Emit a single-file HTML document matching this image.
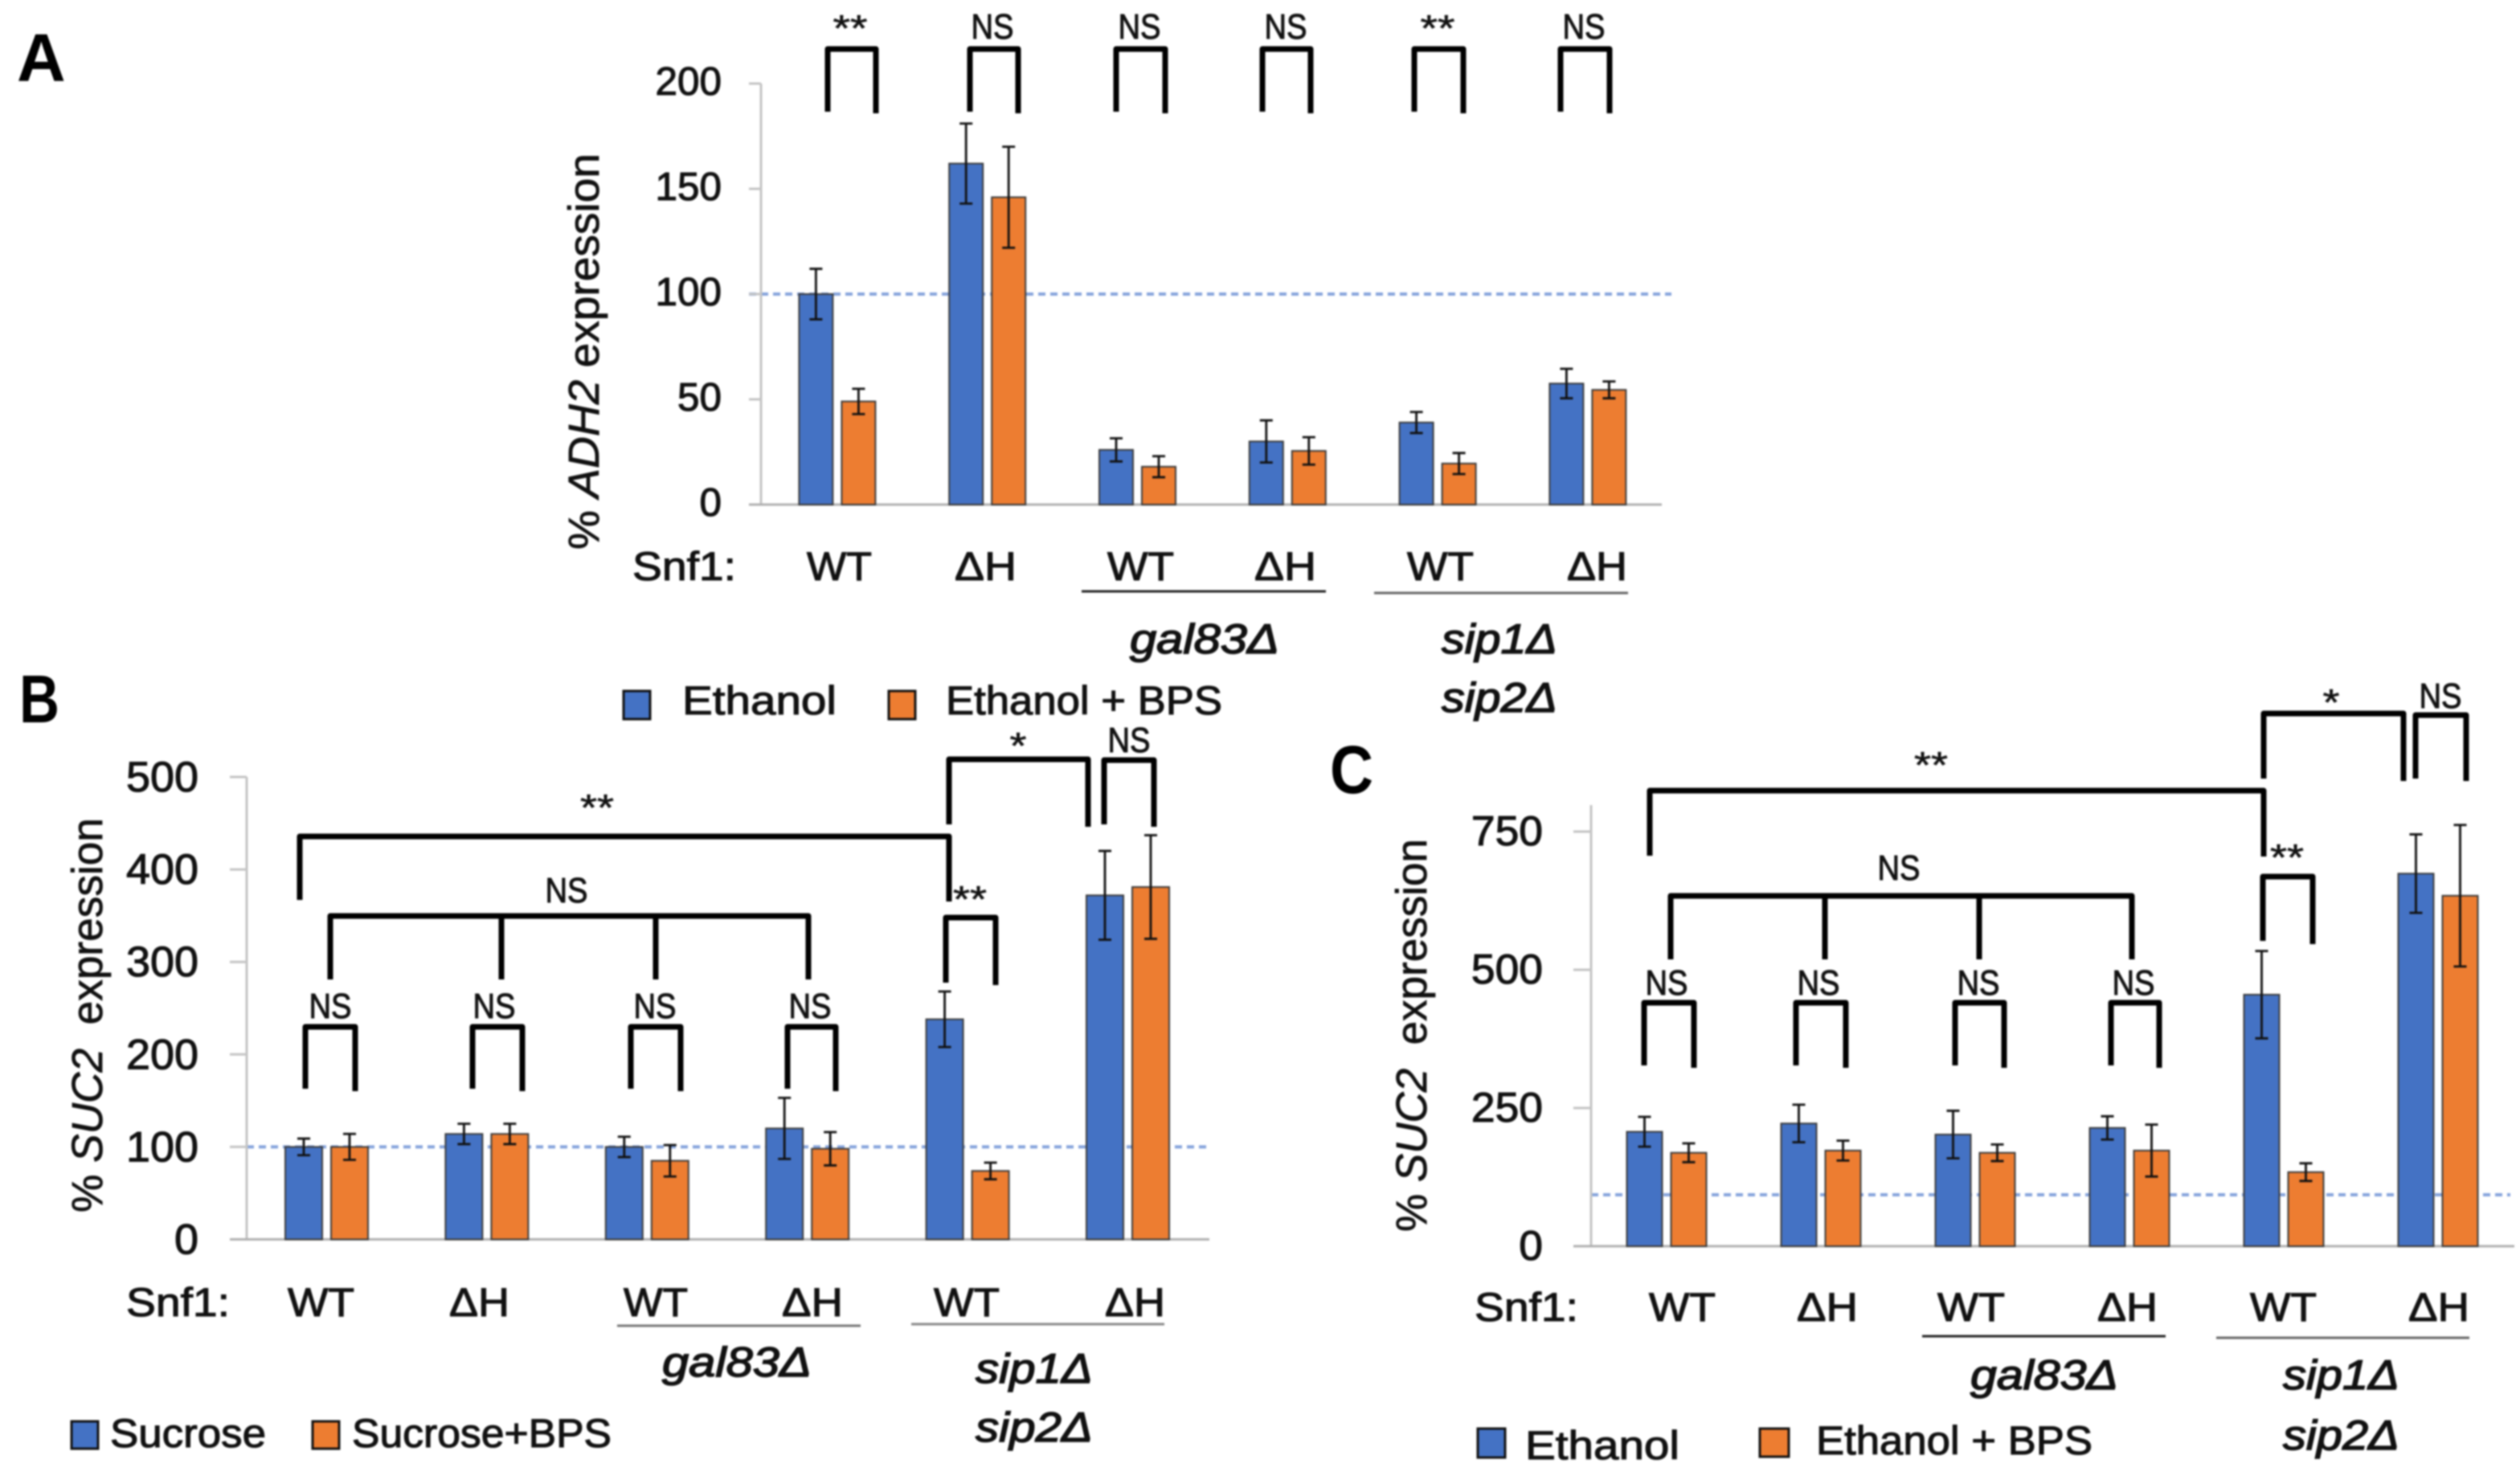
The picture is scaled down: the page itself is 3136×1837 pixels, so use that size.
<!DOCTYPE html>
<html lang="en">
<head>
<meta charset="utf-8">
<title>ADH2 and SUC2 expression</title>
<style>
html,body{margin:0;padding:0;background:#fff;}
svg{display:block;filter:blur(1.1px);}
text{font-family:"Liberation Sans",sans-serif;fill:#111;}
.lab{font-size:50px;stroke:#111;stroke-width:1.1px;}
.gene{font-size:52px;font-style:italic;stroke:#111;stroke-width:1.5px;}
.sig{font-size:44px;text-anchor:middle;stroke:#111;stroke-width:1px;}
.star{font-size:46px;text-anchor:middle;stroke:#111;stroke-width:.6px;}
.panel{font-size:84px;font-weight:bold;fill:#000;}
.title{font-size:54px;stroke:#111;stroke-width:.8px;}
.br{fill:none;stroke:#000;stroke-width:7px;stroke-linejoin:round;}
.ul{stroke-width:3px;fill:none;}
.sw{stroke:#111;stroke-width:3px;}
</style>
</head>
<body>
<svg id="fig" xmlns="http://www.w3.org/2000/svg" width="3136" height="1837" viewBox="0 0 3136 1837">
  <rect width="3136" height="1837" fill="#fff"/>
  <g id="plotA"></g>
  <g id="plotB"></g>
  <g id="plotC"></g>

  <!-- Panel letters -->
  <text class="panel" x="21" y="101">A</text>
  <text class="panel" x="24" y="899" textLength="50" lengthAdjust="spacingAndGlyphs">B</text>
  <text class="panel" x="1655" y="987" textLength="54" lengthAdjust="spacingAndGlyphs">C</text>

  <!-- Axis titles -->
  <text class="title" transform="translate(745 684) rotate(-90)" textLength="493" lengthAdjust="spacingAndGlyphs">% <tspan font-style="italic">ADH2</tspan> expression</text>
  <text class="title" transform="translate(127 1509) rotate(-90)" textLength="491" lengthAdjust="spacingAndGlyphs">% <tspan font-style="italic">SUC2</tspan>&#160; expression</text>
  <text class="title" transform="translate(1775 1533) rotate(-90)" textLength="489" lengthAdjust="spacingAndGlyphs">% <tspan font-style="italic">SUC2</tspan>&#160; expression</text>

  <!-- Panel A annotations -->
  <g>
    <path class="br" d="M1030 139V61H1090V141"/>
    <path class="br" d="M1207 139V61H1267V141"/>
    <path class="br" d="M1389 139V61H1450V141"/>
    <path class="br" d="M1571 139V61H1631V141"/>
    <path class="br" d="M1760 139V61H1821V141"/>
    <path class="br" d="M1942 139V61H2003V141"/>
    <text class="star" x="1058" y="51" textLength="43" lengthAdjust="spacingAndGlyphs">**</text>
    <text class="sig" x="1235" y="48" textLength="53" lengthAdjust="spacingAndGlyphs">NS</text>
    <text class="sig" x="1418" y="48" textLength="53" lengthAdjust="spacingAndGlyphs">NS</text>
    <text class="sig" x="1600" y="48" textLength="53" lengthAdjust="spacingAndGlyphs">NS</text>
    <text class="star" x="1789" y="51" textLength="43" lengthAdjust="spacingAndGlyphs">**</text>
    <text class="sig" x="1971" y="48" textLength="53" lengthAdjust="spacingAndGlyphs">NS</text>
  </g>
  <g>
    <text class="lab" x="787" y="722" textLength="129" lengthAdjust="spacingAndGlyphs">Snf1:</text>
    <text class="lab" x="1004" y="722" textLength="81" lengthAdjust="spacingAndGlyphs">WT</text>
    <text class="lab" x="1188" y="722" textLength="77" lengthAdjust="spacingAndGlyphs">ΔH</text>
    <text class="lab" x="1378" y="722" textLength="83" lengthAdjust="spacingAndGlyphs">WT</text>
    <text class="lab" x="1561" y="722" textLength="77" lengthAdjust="spacingAndGlyphs">ΔH</text>
    <text class="lab" x="1751" y="722" textLength="83" lengthAdjust="spacingAndGlyphs">WT</text>
    <text class="lab" x="1950" y="722" textLength="75" lengthAdjust="spacingAndGlyphs">ΔH</text>
    <line class="ul" x1="1346" x2="1650" y1="736" y2="736" stroke="#222"/>
    <line class="ul" x1="1710" x2="2026" y1="738" y2="738" stroke="#666"/>
    <text class="gene" x="1406" y="813" textLength="186" lengthAdjust="spacingAndGlyphs">gal83Δ</text>
    <text class="gene" x="1794" y="813" textLength="144" lengthAdjust="spacingAndGlyphs">sip1Δ</text>
    <text class="gene" x="1794" y="886" textLength="144" lengthAdjust="spacingAndGlyphs">sip2Δ</text>
  </g>
  <g>
    <rect class="sw" x="776" y="860" width="33" height="35" fill="#4472c4"/>
    <text class="lab" x="849" y="889" textLength="192" lengthAdjust="spacingAndGlyphs">Ethanol</text>
    <rect class="sw" x="1106" y="860" width="33" height="35" fill="#ed7d31"/>
    <text class="lab" x="1177" y="889" textLength="344" lengthAdjust="spacingAndGlyphs">Ethanol + BPS</text>
  </g>

  <!-- Panel B annotations -->
  <g>
    <path class="br" d="M380 1355V1278H442V1358"/>
    <path class="br" d="M588 1355V1278H650V1358"/>
    <path class="br" d="M785 1355V1278H847V1358"/>
    <path class="br" d="M980 1355V1278H1040V1358"/>
    <path class="br" d="M1177 1223V1142H1239V1226"/>
    <path class="br" d="M411 1219V1140H1006V1219M624 1140V1219M816 1140V1219"/>
    <path class="br" d="M373 1120V1041H1181V1122"/>
    <path class="br" d="M1181 1026V945H1354V1029"/>
    <path class="br" d="M1374 1026V946H1436V1029"/>
    <text class="sig" x="411" y="1267" textLength="53" lengthAdjust="spacingAndGlyphs">NS</text>
    <text class="sig" x="615" y="1267" textLength="53" lengthAdjust="spacingAndGlyphs">NS</text>
    <text class="sig" x="815" y="1267" textLength="53" lengthAdjust="spacingAndGlyphs">NS</text>
    <text class="sig" x="1008" y="1267" textLength="53" lengthAdjust="spacingAndGlyphs">NS</text>
    <text class="star" x="1207" y="1135" textLength="42" lengthAdjust="spacingAndGlyphs">**</text>
    <text class="sig" x="705" y="1123" textLength="53" lengthAdjust="spacingAndGlyphs">NS</text>
    <text class="star" x="743" y="1021" textLength="42" lengthAdjust="spacingAndGlyphs">**</text>
    <text class="star" x="1267" y="944" textLength="21" lengthAdjust="spacingAndGlyphs">*</text>
    <text class="sig" x="1405" y="936" textLength="53" lengthAdjust="spacingAndGlyphs">NS</text>
  </g>
  <g>
    <text class="lab" x="157" y="1638" textLength="129" lengthAdjust="spacingAndGlyphs">Snf1:</text>
    <text class="lab" x="358" y="1638" textLength="83" lengthAdjust="spacingAndGlyphs">WT</text>
    <text class="lab" x="559" y="1638" textLength="75" lengthAdjust="spacingAndGlyphs">ΔH</text>
    <text class="lab" x="776" y="1638" textLength="80" lengthAdjust="spacingAndGlyphs">WT</text>
    <text class="lab" x="973" y="1638" textLength="76" lengthAdjust="spacingAndGlyphs">ΔH</text>
    <text class="lab" x="1162" y="1638" textLength="82" lengthAdjust="spacingAndGlyphs">WT</text>
    <text class="lab" x="1375" y="1638" textLength="75" lengthAdjust="spacingAndGlyphs">ΔH</text>
    <line class="ul" x1="768" x2="1071" y1="1650" y2="1650" stroke="#777"/>
    <line class="ul" x1="1134" x2="1449" y1="1648" y2="1648" stroke="#888"/>
    <text class="gene" x="824" y="1713" textLength="186" lengthAdjust="spacingAndGlyphs">gal83Δ</text>
    <text class="gene" x="1214" y="1721" textLength="146" lengthAdjust="spacingAndGlyphs">sip1Δ</text>
    <text class="gene" x="1214" y="1794" textLength="146" lengthAdjust="spacingAndGlyphs">sip2Δ</text>
  </g>
  <g>
    <rect class="sw" x="89" y="1769" width="33" height="34" fill="#4472c4"/>
    <text class="lab" x="137" y="1801" textLength="194" lengthAdjust="spacingAndGlyphs">Sucrose</text>
    <rect class="sw" x="389" y="1769" width="33" height="34" fill="#ed7d31"/>
    <text class="lab" x="438" y="1801" textLength="323" lengthAdjust="spacingAndGlyphs">Sucrose+BPS</text>
  </g>

  <!-- Panel C annotations -->
  <g>
    <path class="br" d="M2046 1326V1248H2108V1329"/>
    <path class="br" d="M2235 1326V1248H2297V1329"/>
    <path class="br" d="M2433 1326V1248H2494V1329"/>
    <path class="br" d="M2627 1326V1248H2687V1329"/>
    <path class="br" d="M2816 1171V1091H2878V1175"/>
    <path class="br" d="M2079 1194V1115H2653V1194M2271 1115V1194M2463 1115V1194"/>
    <path class="br" d="M2053 1065V984H2817V1066"/>
    <path class="br" d="M2817 969V888H2991V972"/>
    <path class="br" d="M3006 969V890H3069V972"/>
    <text class="sig" x="2074" y="1238" textLength="53" lengthAdjust="spacingAndGlyphs">NS</text>
    <text class="sig" x="2263" y="1238" textLength="53" lengthAdjust="spacingAndGlyphs">NS</text>
    <text class="sig" x="2462" y="1238" textLength="53" lengthAdjust="spacingAndGlyphs">NS</text>
    <text class="sig" x="2655" y="1238" textLength="53" lengthAdjust="spacingAndGlyphs">NS</text>
    <text class="star" x="2846" y="1083" textLength="42" lengthAdjust="spacingAndGlyphs">**</text>
    <text class="sig" x="2363" y="1095" textLength="53" lengthAdjust="spacingAndGlyphs">NS</text>
    <text class="star" x="2403" y="968" textLength="42" lengthAdjust="spacingAndGlyphs">**</text>
    <text class="star" x="2901" y="890" textLength="21" lengthAdjust="spacingAndGlyphs">*</text>
    <text class="sig" x="3037" y="881" textLength="53" lengthAdjust="spacingAndGlyphs">NS</text>
  </g>
  <g>
    <text class="lab" x="1835" y="1644" textLength="129" lengthAdjust="spacingAndGlyphs">Snf1:</text>
    <text class="lab" x="2052" y="1644" textLength="83" lengthAdjust="spacingAndGlyphs">WT</text>
    <text class="lab" x="2236" y="1644" textLength="76" lengthAdjust="spacingAndGlyphs">ΔH</text>
    <text class="lab" x="2411" y="1644" textLength="84" lengthAdjust="spacingAndGlyphs">WT</text>
    <text class="lab" x="2610" y="1644" textLength="75" lengthAdjust="spacingAndGlyphs">ΔH</text>
    <text class="lab" x="2800" y="1644" textLength="83" lengthAdjust="spacingAndGlyphs">WT</text>
    <text class="lab" x="2997" y="1644" textLength="76" lengthAdjust="spacingAndGlyphs">ΔH</text>
    <line class="ul" x1="2392" x2="2695" y1="1663" y2="1663" stroke="#222"/>
    <line class="ul" x1="2758" x2="3073" y1="1665" y2="1665" stroke="#666"/>
    <text class="gene" x="2452" y="1729" textLength="184" lengthAdjust="spacingAndGlyphs">gal83Δ</text>
    <text class="gene" x="2841" y="1729" textLength="145" lengthAdjust="spacingAndGlyphs">sip1Δ</text>
    <text class="gene" x="2841" y="1804" textLength="145" lengthAdjust="spacingAndGlyphs">sip2Δ</text>
  </g>
  <g>
    <rect class="sw" x="1839" y="1778" width="34" height="36" fill="#4472c4"/>
    <text class="lab" x="1898" y="1816" textLength="192" lengthAdjust="spacingAndGlyphs">Ethanol</text>
    <rect class="sw" x="2190" y="1778" width="36" height="35" fill="#ed7d31"/>
    <text class="lab" x="2260" y="1810" textLength="344" lengthAdjust="spacingAndGlyphs">Ethanol + BPS</text>
  </g>
</svg>

<script>
// Panel A: ADH2 expression
const adhCategories = ["WT", "dH", "gal83-WT", "gal83-dH", "sip-WT", "sip-dH"];
const adhEthanol = [100, 162, 26, 30, 39, 57.5];
const adhEthanolErr = [12, 19, 5.5, 10, 5, 7];
const adhBps = [49, 146, 18, 25.5, 19.5, 54.5];
const adhBpsErr = [6, 24, 5, 6.5, 5, 4];
const adhTicks = [0, 50, 100, 150, 200];
const adhReference = 100;

// Panel B: SUC2 expression, sucrose
const sucCategories = ["WT", "dH", "gal83-WT", "gal83-dH", "sip-WT", "sip-dH"];
const sucrose = [100, 114, 100, 120, 238, 372];
const sucroseErr = [9, 11, 11, 33, 30, 48];
const sucroseBps = [100, 114, 85, 98, 74, 381];
const sucroseBpsErr = [14, 11, 17, 18, 9, 56];
const sucTicks = [0, 100, 200, 300, 400, 500];
const sucReference = 100;

// Panel C: SUC2 expression, ethanol
const suc2Categories = ["WT", "dH", "gal83-WT", "gal83-dH", "sip-WT", "sip-dH"];
const suc2Ethanol = [207, 222, 202, 214, 455, 674];
const suc2EthanolErr = [27, 34, 43, 21, 79, 71];
const suc2Bps = [169, 173, 169, 173, 134, 634];
const suc2BpsErr = [17, 18, 15, 47, 16, 128];
const suc2Ticks = [0, 250, 500, 750];
const suc2Reference = 93;

const NS = "http://www.w3.org/2000/svg";

function make(parent, tag, attrs) {
  const el = document.createElementNS(NS, tag);
  for (const k in attrs) el.setAttribute(k, attrs[k]);
  parent.appendChild(el);
  return el;
}

function drawSeries(g, cats, vals, errs, xAt, yAt, width, color, seriesName) {
  vals.forEach(function (v, i) {
    const cx = xAt(i);
    const bar = make(g, "rect", {
      x: cx - width / 2, y: yAt(v), width: width, height: yAt(0) - yAt(v),
      fill: color, stroke: "#3c3c3c", "stroke-width": 2
    });
    
    
  });
  vals.forEach(function (v, i) {
    const cx = xAt(i), hi = yAt(v + errs[i]), lo = yAt(v - errs[i]);
    const eb = make(g, "path", {
      d: "M" + (cx - 8) + " " + hi + "H" + (cx + 8) + "M" + cx + " " + hi + "V" + lo + "M" + (cx - 8) + " " + lo + "H" + (cx + 8),
      fill: "none", stroke: "#111", "stroke-width": 2.8
    });
    
    
  });
}

function drawPanel(o) {
  const g = document.getElementById(o.id);
  const yAt = function (v) { return o.y0 - v * o.pxPerUnit; };
  const blueX = function (i) { return o.x0 + o.step * i; };
  const orangeX = function (i) { return o.x0 + o.offset + o.step * i; };

  const refLine = make(g, "line", {
    x1: o.refStart, x2: o.refEnd, y1: yAt(o.reference), y2: yAt(o.reference),
    stroke: "#86a4dc", "stroke-width": 4, "stroke-dasharray": "9 6"
  });
  
  

  const yAxis = make(g, "line", {
    x1: o.axisX, x2: o.axisX, y1: o.axisTop, y2: o.y0,
    stroke: "#c4c4c4", "stroke-width": 3
  });
  
  

  o.ticks.forEach(function (t) {
    const tick = make(g, "line", {
      x1: o.tickStart, x2: t === 0 ? o.axisEnd : o.axisX, y1: yAt(t), y2: yAt(t),
      stroke: t === 0 ? "#b0b0b0" : "#c4c4c4", "stroke-width": 3
    });
    
    
    const digits = String(t).length;
    const label = make(g, "text", {
      x: o.labelRight, y: yAt(t) + o.labelDrop, "text-anchor": "end",
      "font-size": o.tickFont, stroke: "#111", "stroke-width": 1.1,
      textLength: digits * o.digitWidth, lengthAdjust: "spacingAndGlyphs"
    });
    
    
    label.textContent = t;
  });

  drawSeries(g, o.cats, o.blue, o.blueErr, blueX, yAt, o.width, "#4472c4", o.blueName);
  drawSeries(g, o.cats, o.orange, o.orangeErr, orangeX, yAt, o.width, "#ed7d31", o.orangeName);
}

drawPanel({
  id: "plotA", cats: adhCategories, blue: adhEthanol, blueErr: adhEthanolErr,
  orange: adhBps, orangeErr: adhBpsErr, ticks: adhTicks, reference: adhReference,
  blueName: "ethanol", orangeName: "ethanol-bps",
  y0: 628, pxPerUnit: 2.62, x0: 1015.4, step: 186.8, offset: 53, width: 42,
  axisX: 947, axisTop: 104, tickStart: 932, axisEnd: 2068,
  refStart: 932, refEnd: 2080, labelRight: 898, labelDrop: 14,
  tickFont: 49, digitWidth: 27.5
});

drawPanel({
  id: "plotB", cats: sucCategories, blue: sucrose, blueErr: sucroseErr,
  orange: sucroseBps, orangeErr: sucroseBpsErr, ticks: sucTicks, reference: sucReference,
  blueName: "sucrose", orangeName: "sucrose-bps",
  y0: 1542.5, pxPerUnit: 1.151, x0: 378, step: 199.4, offset: 57, width: 46,
  axisX: 307, axisTop: 967, tickStart: 286, axisEnd: 1505,
  refStart: 307, refEnd: 1502, labelRight: 247, labelDrop: 18,
  tickFont: 53, digitWidth: 30
});

drawPanel({
  id: "plotC", cats: suc2Categories, blue: suc2Ethanol, blueErr: suc2EthanolErr,
  orange: suc2Bps, orangeErr: suc2BpsErr, ticks: suc2Ticks, reference: suc2Reference,
  blueName: "ethanol", orangeName: "ethanol-bps",
  y0: 1551, pxPerUnit: 0.688, x0: 2046.5, step: 192, offset: 55, width: 44,
  axisX: 1980, axisTop: 1002, tickStart: 1958, axisEnd: 3129,
  refStart: 1980, refEnd: 3124, labelRight: 1920, labelDrop: 17,
  tickFont: 52, digitWidth: 29.7
});
</script>
</body>
</html>
